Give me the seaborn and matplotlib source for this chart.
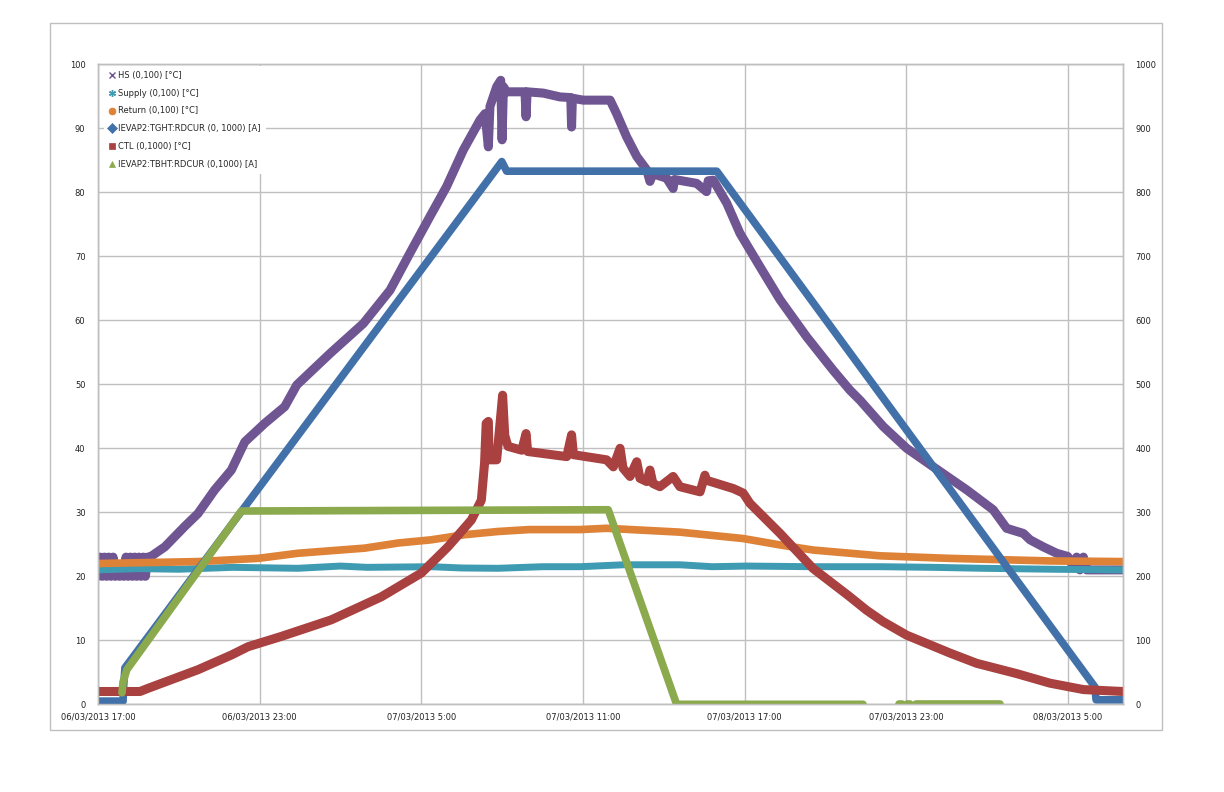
import matplotlib
matplotlib.use("Agg")
import numpy as np
import pandas as pd
import seaborn as sns
import matplotlib.pyplot as plt
from matplotlib.lines import Line2D
from matplotlib.patches import Rectangle

# ---------------- data (hours after 06/03/2013 17:00) ----------------
x_tick_hours = [0, 6, 12, 18, 24, 30, 36]
x_tick_labels = ["06/03/2013 17:00", "06/03/2013 23:00", "07/03/2013 5:00",
                 "07/03/2013 11:00", "07/03/2013 17:00", "07/03/2013 23:00",
                 "08/03/2013 5:00"]
left_ticks = list(range(0, 101, 10))
right_ticks = list(range(0, 1001, 100))

labels = ["HS (0,100) [°C]", "Supply (0,100) [°C]", "Return (0,100) [°C]",
          "IEVAP2:TGHT:RDCUR (0, 1000) [A]", "CTL (0,1000) [°C]",
          "IEVAP2:TBHT:RDCUR (0,1000) [A]"]

hs_h = [0, 0.08, 0.16, 0.24, 0.32, 0.40, 0.48, 0.56, 0.64, 0.72, 0.80, 0.88, 0.96,
        1.04, 1.12, 1.20, 1.28, 1.36, 1.44, 1.52, 1.60, 1.68, 1.76, 1.84, 1.93,
        2.48, 3.22, 3.71, 4.33, 4.95, 5.45,
        6.19, 6.93, 7.38, 8.61, 9.85, 10.84, 11.58, 12.32, 12.94, 13.56, 14.18,
        14.37, 14.49, 14.55, 14.80, 14.95, 15.0, 15.05, 15.17, 15.85, 15.89, 15.93,
        16.53, 17.15, 17.55, 17.58, 17.61, 18.01, 19.01, 19.25, 19.62, 20.00, 20.37,
        20.49, 20.60, 20.74, 21.11, 21.35, 21.40, 22.22, 22.59, 22.65, 22.84, 23.34,
        23.83, 24.57, 25.32, 26.31, 27.29, 27.91, 28.29, 29.15, 30.02, 31.01, 32.25,
        33.23, 33.73, 34.35, 34.60, 35.09, 35.59, 36.0, 36.2, 36.33, 36.45, 36.58,
        36.7, 36.9, 37.3, 38.05]
hs_v = [20, 23, 20, 23, 20, 23, 20, 23, 20, 20.5, 20, 20.5, 20,
        23, 20, 23, 20, 23, 20, 23, 20, 23, 20, 23, 23,
        24.6, 27.8, 29.8, 33.5, 36.6, 41.0,
        43.9, 46.5, 49.9, 54.8, 59.5, 64.7, 70.5, 76.2, 80.9, 86.6, 91.3,
        92.3, 87.1, 93.4, 96.5, 97.5, 88.2, 96.5, 95.7, 95.7, 91.8, 95.7,
        95.5, 94.9, 94.8, 90.2, 94.7, 94.4, 94.4, 92.3, 88.7, 85.6, 83.5,
        81.7, 83.0, 82.7, 82.2, 80.6, 82.0, 81.4, 80.1, 81.8, 81.9, 78.3,
        73.6, 68.4, 63.2, 57.4, 52.2, 49.1, 47.5, 43.4, 40.0, 37.1, 33.5,
        30.4, 27.5, 26.7, 25.7, 24.6, 23.6, 23.1, 21.5, 23.0, 21.0, 23.0,
        21.0, 21.0, 21.0, 21.0]

sup_h = [0, 1.5, 3.0, 5.0, 7.42, 9.0, 10.0, 12.37, 13.5, 14.85, 16.5, 17.89, 19.5,
         21.6, 22.8, 24.08, 26.5, 29.03, 31.0, 32.85, 35.5, 38.05]
sup_v = [21.0, 21.2, 21.1, 21.4, 21.25, 21.6, 21.4, 21.5, 21.3, 21.25, 21.5, 21.5, 21.8,
         21.8, 21.5, 21.6, 21.5, 21.5, 21.4, 21.25, 21.1, 21.0]

ret_h = [0, 3.71, 5.94, 7.42, 9.90, 11.14, 12.37, 13.61, 14.85, 16.0, 17.89, 18.88,
         21.60, 23.95, 25.32, 26.55, 29.03, 31.63, 35.34, 38.05]
ret_v = [22.0, 22.3, 22.8, 23.6, 24.4, 25.2, 25.7, 26.5, 27.0, 27.3, 27.3, 27.5,
         26.9, 25.9, 24.9, 24.1, 23.2, 22.8, 22.4, 22.3]

tght_h = [0, 0.93, 0.95, 1.0, 14.99, 15.17, 22.97, 37.01, 37.05, 38.05]
tght_v = [5, 5, 27, 57, 848, 833, 833, 27, 7, 7]

ctl_h = [0, 1.56, 1.86, 3.71, 4.95, 5.57, 6.80, 8.66, 10.52, 12.00, 12.99, 13.86,
         14.23, 14.35, 14.41, 14.49, 14.52, 14.80, 15.02, 15.10, 15.22, 15.73, 15.89,
         15.95, 17.40, 17.58, 17.65, 18.88, 19.13, 19.38, 19.49, 19.75, 20.00, 20.12,
         20.37, 20.49, 20.60, 20.86, 21.35, 21.60, 22.35, 22.53, 22.59, 23.59, 23.95,
         24.20, 25.32, 26.55, 27.85, 28.53, 29.15, 30.02, 31.63, 32.62, 34.10, 35.34,
         36.58, 38.05]
ctl_v = [20, 20, 25, 54, 77, 90, 106, 132, 168, 205, 246, 288,
         319, 377, 439, 442, 382, 382, 483, 420, 403, 397, 423,
         395, 387, 421, 390, 382, 371, 400, 369, 356, 379, 353,
         348, 366, 345, 340, 356, 340, 332, 358, 350, 337, 330,
         314, 267, 212, 170, 147, 129, 108, 80, 64, 48, 33,
         23, 20]

tbht_seg = [1, 1, 1, 1, 1, 1, 1, 2, 2, 3, 3, 4, 4]
tbht_h = [0.89, 0.93, 1.07, 5.32, 18.94, 21.48, 28.40, 29.74, 29.84, 30.05, 30.14, 30.36, 33.48]
tbht_v = [18, 35, 54, 302, 304, 0, 0, 0, 0, 0, 0, 0, 0]

colors = ["#6F5592", "#3F9BB2", "#DE8237", "#4271A9", "#A8413F", "#8BA94D"]
markers = ["x", (6, 2, 0), "o", "D", "s", "^"]

# ---------------- figure ----------------
sns.set_style("white")
plt.rcParams['font.family'] = ['DejaVu Sans']

W, H = 1224, 792
fig = plt.figure(figsize=(W / 100, H / 100), dpi=100)
x0, x1, y0, y1 = 98, 1123, 64.3, 704.3
ax = fig.add_axes([x0 / W, 1 - y1 / H, (x1 - x0) / W, (y1 - y0) / H])
ax2 = ax.twinx()

grid_c = "#BFBFBF"
ax.set_xticks(x_tick_hours)
ax.set_xticklabels(x_tick_labels)
ax.set_yticks(left_ticks)
ax2.set_yticks(right_ticks)
ax.grid(True, color=grid_c, linewidth=1)
ax2.grid(False)
for a in (ax, ax2):
    for s in a.spines.values():
        s.set_color(grid_c)
        s.set_linewidth(1)
ax.tick_params(axis='both', length=0, labelsize=6, colors="#222222")
ax.tick_params(axis='y', pad=9)
ax.tick_params(axis='x', pad=6)
ax2.tick_params(axis='y', length=0, labelsize=6, colors="#222222", pad=9)

kw = dict(estimator=None, sort=False, legend=False)
line_kw = dict(solid_capstyle='round', solid_joinstyle='round')

df_hs = pd.DataFrame({"h": hs_h, "v": hs_v})
df_sup = pd.DataFrame({"h": sup_h, "v": sup_v})
df_ret = pd.DataFrame({"h": ret_h, "v": ret_v})
df_tght = pd.DataFrame({"h": tght_h, "v": tght_v})
df_ctl = pd.DataFrame({"h": ctl_h, "v": ctl_v})
df_tbht = pd.DataFrame({"h": tbht_h, "v": tbht_v, "seg": tbht_seg})

sns.lineplot(data=df_hs, x="h", y="v", ax=ax, color=colors[0], linewidth=6.5, **kw, **line_kw)
sns.lineplot(data=df_sup, x="h", y="v", ax=ax, color=colors[1], linewidth=5, **kw, **line_kw)
sns.lineplot(data=df_ret, x="h", y="v", ax=ax, color=colors[2], linewidth=5.5, **kw, **line_kw)
sns.lineplot(data=df_tght, x="h", y="v", ax=ax2, color=colors[3], linewidth=5.5, **kw, **line_kw)
sns.lineplot(data=df_ctl, x="h", y="v", ax=ax2, color=colors[4], linewidth=6.5, **kw, **line_kw)
sns.lineplot(data=df_tbht, x="h", y="v", units="seg", ax=ax2, color=colors[5], linewidth=5.5, **kw, **line_kw)

ax.set_xlabel("")
ax.set_ylabel("")
ax2.set_ylabel("")
ax.set_xlim(0, 38.05)
ax.set_ylim(0, 100)
ax2.set_ylim(0, 1000)

handles = [Line2D([], [], linestyle="none", marker=m, color=c, markersize=5,
                  markeredgewidth=1.0 if i < 2 else 0.5)
           for i, (m, c) in enumerate(zip(markers, colors))]
leg = ax2.legend(handles, labels, loc="upper left",
                 bbox_to_anchor=(104 / W, 1 - 66 / H), bbox_transform=fig.transFigure,
                 fontsize=6, frameon=True, facecolor="white", edgecolor="none",
                 framealpha=1, handlelength=0.8, handletextpad=0.3,
                 labelspacing=1.05, borderpad=0.6, borderaxespad=0)
leg.set_zorder(10)

fig.add_artist(Rectangle((50 / W, 1 - 730 / H), (1162 - 50) / W, (730 - 23) / H,
                         transform=fig.transFigure, fill=False,
                         edgecolor=grid_c, linewidth=1))

fig.savefig("out.png", dpi=100, facecolor="white")
